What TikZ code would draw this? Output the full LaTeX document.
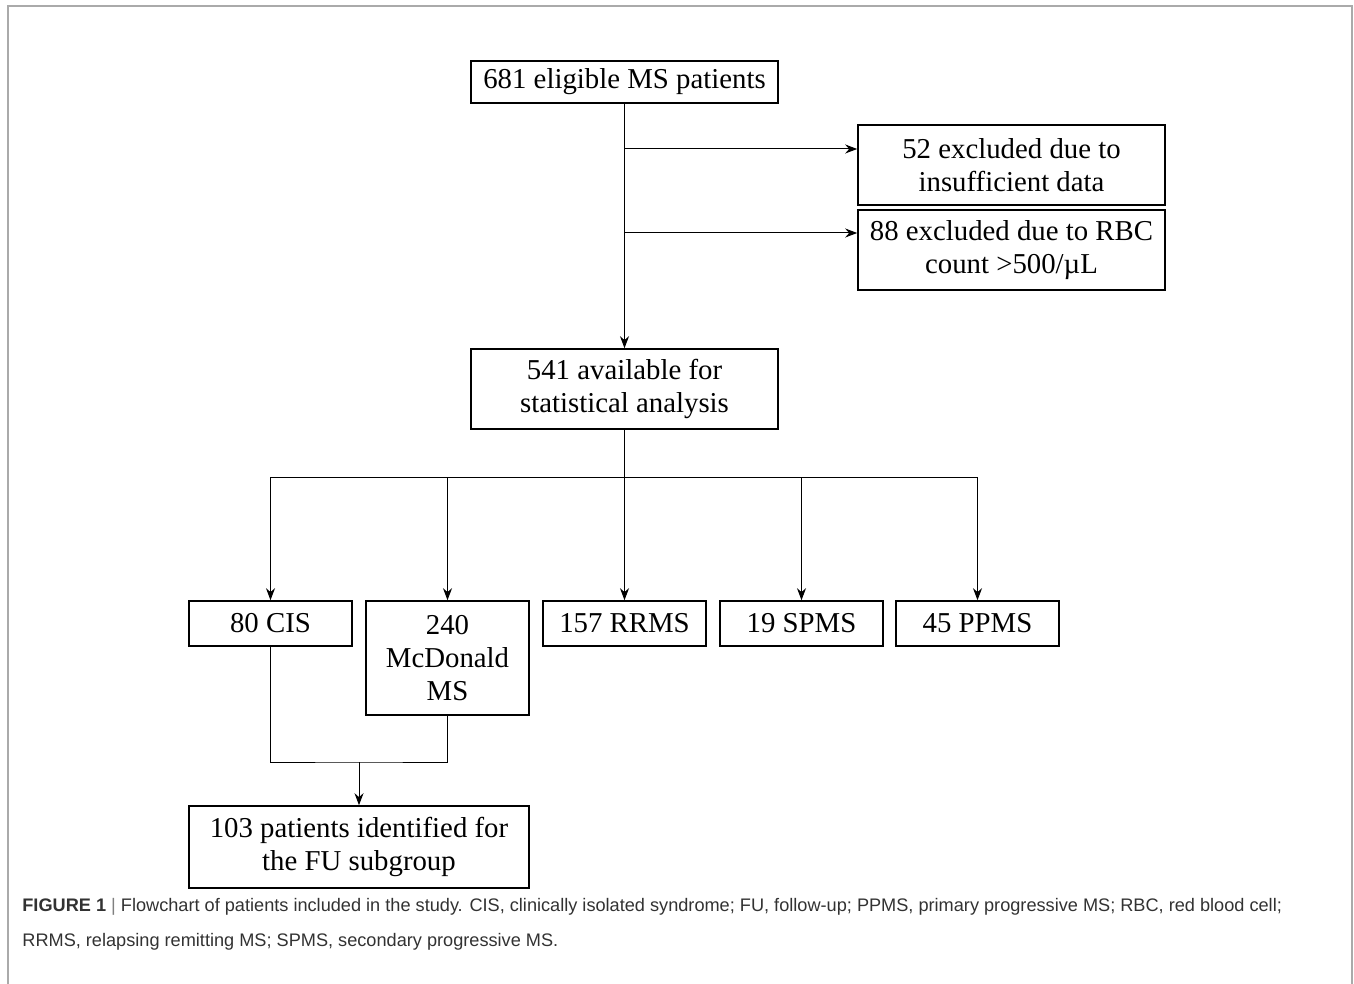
\documentclass[tikz,border=0pt]{standalone}
\usepackage{fontspec}
\setmainfont{Liberation Serif}
\newfontfamily\capfont{Liberation Sans}
\usetikzlibrary{arrows.meta}
\definecolor{framegray}{RGB}{170,170,170}
\definecolor{capgray}{RGB}{50,50,50}
\tikzset{
  box/.style={draw, line width=0.8pt, rectangle, align=center, inner sep=0pt,
    font=\fontsize{14.4}{16.5}\selectfont},
  arr/.style={-{Stealth[length=6pt,width=4.5pt]}, line width=0.5pt},
  link/.style={line width=0.5pt}
}
\begin{document}
\begin{tikzpicture}[x=0.5pt,y=-0.5pt]
  \useasboundingbox (0,0) rectangle (1354,984);
  \draw[framegray, line width=1pt] (8,990) -- (8,6) -- (1352,6) -- (1352,990);
  % main column
  \node[box, minimum width=153.5pt, minimum height=21pt] (v681) at (624.5,82) {681 eligible MS patients};
  \node[box, minimum width=153.5pt, minimum height=40pt] (v52) at (1011.5,165) {52 excluded due to\\insufficient data};
  \node[box, minimum width=153.5pt, minimum height=40pt] (v88) at (1011.5,250) {88 excluded due to RBC\\count >500/µL};
  \node[box, minimum width=153.5pt, minimum height=40pt] (v541) at (624.5,389) {541 available for\\statistical analysis};
  % subgroups
  \node[box, minimum width=81.5pt, minimum height=22.5pt] (cis) at (270.5,623.5) {80 CIS};
  \node[box, minimum width=81.5pt, minimum height=57pt] (mcd) at (447.5,658) {240\\McDonald\\MS};
  \node[box, minimum width=81.5pt, minimum height=22.5pt] (rrms) at (624.5,623.5) {157 RRMS};
  \node[box, minimum width=81.5pt, minimum height=22.5pt] (spms) at (801.5,623.5) {19 SPMS};
  \node[box, minimum width=81.5pt, minimum height=22.5pt] (ppms) at (977.5,623.5) {45 PPMS};
  \node[box, minimum width=170pt, minimum height=41pt] (fu) at (359,847) {103 patients identified for\\the FU subgroup};
  %
  \coordinate (b52) at (624.5,149);
  \coordinate (b88) at (624.5,233);
  \coordinate (bus) at (624.5,477);
  \coordinate (join) at (359,762);
  \draw[arr] (v681.south) -- (v541.north);
  \foreach \u\v in {b52/v52, b88/v88}
  {	\draw[arr] (\u) -- (\v.west |- \u);
  }
  \draw[link] (v541.south) -- (bus);
  \foreach \v in {cis, mcd, rrms, spms, ppms}
  {	\draw[arr] (bus) -| (\v.north);
  }
  \draw[link] (cis.south) |- (join) -| (mcd.south);
  \draw[arr] (join) -- (fu.north);
  % caption
  \node[anchor=north west, align=left, inner sep=0pt, text=capgray,
    font=\capfont\fontsize{9.08}{17.5}\selectfont] (cap) at (22,898)
    {{\bfseries FIGURE 1} {\color{gray}|} Flowchart of patients included in the study. CIS, clinically isolated syndrome; FU, follow-up; PPMS, primary progressive MS; RBC, red blood cell;\\RRMS, relapsing remitting MS; SPMS, secondary progressive MS.};
\end{tikzpicture}
\end{document}
